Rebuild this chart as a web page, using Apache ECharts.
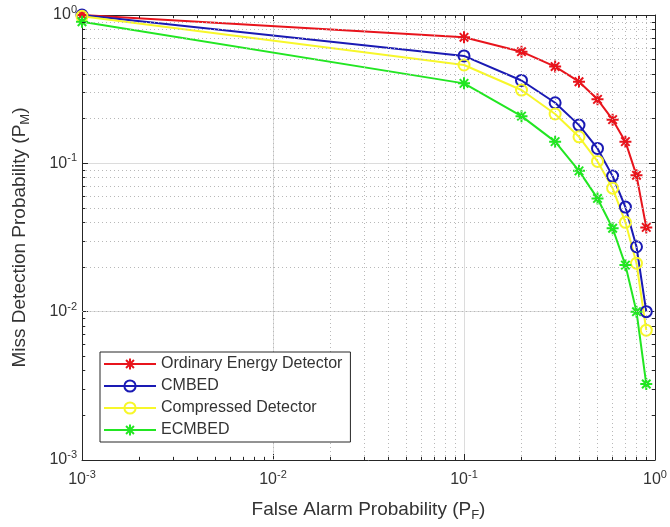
<!DOCTYPE html>
<html>
<head>
<meta charset="utf-8">
<script src="https://cdn.jsdelivr.net/npm/echarts@6/dist/echarts.min.js"></script>
<style>
html,body{margin:0;padding:0;background:#fff;}
#chart{width:670px;height:527px;}
</style>
</head>
<body>
<div id="chart"></div>
<script>
// ---- data ----
const pf = [0.001, 0.1, 0.2, 0.3, 0.4, 0.5, 0.6, 0.7, 0.8, 0.9];
const pmOrdinary = [1.0, 0.707, 0.566, 0.449, 0.355, 0.27, 0.197, 0.14, 0.083, 0.037];
const pmCMBED = [1.0, 0.53, 0.362, 0.256, 0.181, 0.126, 0.082, 0.0507, 0.0274, 0.0100];
const pmCompressed = [0.98, 0.46, 0.312, 0.215, 0.151, 0.103, 0.068, 0.040, 0.0212, 0.0075];
const pmECMBED = [0.90, 0.346, 0.208, 0.14, 0.089, 0.058, 0.0365, 0.0206, 0.0100, 0.00325];
const seriesNames = ['Ordinary Energy Detector', 'CMBED', 'Compressed Detector', 'ECMBED'];
const minorMultipliers = [2, 3, 4, 5, 6, 7, 8, 9];

const FONT = 'Liberation Sans, Arial, Helvetica, sans-serif';
const AXIS_COLOR = '#333333';

const minorVals = [];
[0.001, 0.01, 0.1].forEach(d => minorMultipliers.forEach(m => minorVals.push(+(d * m).toPrecision(3))));

const pts = (ys) => pf.map((x, i) => [x, ys[i]]);
const asterisk = 'path://M10,0L10,20M0,10L20,10M2.93,2.93L17.07,17.07M2.93,17.07L17.07,2.93';

// minor grid (dotted) and minor ticks
const gridLines = [];
minorVals.forEach(v => { gridLines.push({ xAxis: v }); gridLines.push({ yAxis: v }); });
const tickSegs = [];
minorVals.forEach(v => {
  tickSegs.push([{ coord: [v, 0.001] }, { coord: [v, 0.001 * 1.05] }]);
  tickSegs.push([{ coord: [v, 1] }, { coord: [v, 1 / 1.05] }]);
  tickSegs.push([{ coord: [0.001, v] }, { coord: [0.001 * 1.04, v] }]);
  tickSegs.push([{ coord: [1, v] }, { coord: [1 / 1.04, v] }]);
});

const supLabel = (v) => {
  const e = Math.round(Math.log10(v));
  return '{b|10}{s|' + e + '}';
};
const labelRich = {
  b: { fontSize: 16, fontFamily: FONT, color: AXIS_COLOR },
  s: { fontSize: 11, fontFamily: FONT, color: AXIS_COLOR, padding: [0, 0, 10, 0] }
};
const nameRich = { sub: { fontSize: 13, color: AXIS_COLOR, fontFamily: FONT, padding: [11, 0, 0, 0] } };

function mkSeries(name, ys, color, symbol, size) {
  return {
    name: name, type: 'line', data: pts(ys),
    symbol: symbol, symbolSize: size,
    showAllSymbol: true,
    lineStyle: { color: color, width: 2 },
    itemStyle: { color: symbol === 'circle' ? 'rgba(255,255,255,0)' : color, borderColor: color, borderWidth: 2 },
    emphasis: { disabled: true },
    animation: false
  };
}

const chart = echarts.init(document.getElementById('chart'), null, { renderer: 'canvas' });
chart.setOption({
  backgroundColor: '#fff',
  animation: false,
  textStyle: { fontFamily: FONT },
  grid: { left: 82, right: 15, top: 15, bottom: 67 },
  legend: {
    left: 100, top: 352,
    orient: 'vertical',
    data: seriesNames,
    backgroundColor: '#fff',
    borderColor: '#262626', borderWidth: 1,
    padding: [4, 8, 4, 3],
    itemWidth: 52, itemHeight: 14, itemGap: 6,
    textStyle: { fontSize: 16, color: AXIS_COLOR, fontFamily: FONT },
    selectedMode: false,
    z: 10
  },
  xAxis: [{
    type: 'log', logBase: 10, min: 0.001, max: 1,
    name: 'False Alarm Probability (P{sub|F})',
    nameLocation: 'middle', nameGap: 38,
    nameTextStyle: { fontSize: 19, color: AXIS_COLOR, fontFamily: FONT, rich: nameRich },
    axisLine: { show: true, onZero: false, lineStyle: { color: '#262626', width: 1 } },
    axisTick: { show: true, inside: true, length: 6, lineStyle: { color: '#262626' } },
    axisLabel: { formatter: supLabel, rich: labelRich, margin: 9, color: AXIS_COLOR },
    splitLine: { show: true, lineStyle: { color: '#dcdcdc', width: 1 } }
  }, {
    type: 'log', logBase: 10, min: 0.001, max: 1, position: 'top',
    axisLine: { show: true, onZero: false, lineStyle: { color: '#262626', width: 1 } },
    axisTick: { show: true, inside: true, length: 6, lineStyle: { color: '#262626' } },
    axisLabel: { show: false }, splitLine: { show: false }
  }],
  yAxis: [{
    type: 'log', logBase: 10, min: 0.001, max: 1,
    name: 'Miss Detection Probability (P{sub|M})',
    nameLocation: 'middle', nameGap: 50,
    nameTextStyle: { fontSize: 19, color: AXIS_COLOR, fontFamily: FONT, rich: nameRich },
    axisLine: { show: true, onZero: false, lineStyle: { color: '#262626', width: 1 } },
    axisTick: { show: true, inside: true, length: 6, lineStyle: { color: '#262626' } },
    axisLabel: { formatter: supLabel, rich: labelRich, margin: 5, color: AXIS_COLOR },
    splitLine: { show: true, lineStyle: { color: '#dcdcdc', width: 1 } }
  }, {
    type: 'log', logBase: 10, min: 0.001, max: 1, position: 'right',
    axisLine: { show: true, onZero: false, lineStyle: { color: '#262626', width: 1 } },
    axisTick: { show: true, inside: true, length: 6, lineStyle: { color: '#262626' } },
    axisLabel: { show: false }, splitLine: { show: false }
  }],
  series: [
    {
      name: '_grid', type: 'line', data: [[0.001, 0.001]], symbol: 'none',
      lineStyle: { opacity: 0 }, silent: true, z: 1, animation: false,
      markLine: {
        silent: true, symbol: 'none', animation: false,
        label: { show: false },
        lineStyle: { type: [1, 3], color: '#b8b8b8', width: 1 },
        emphasis: { disabled: true },
        data: gridLines
      }
    },
    {
      name: '_ticks', type: 'line', data: [[0.001, 0.001]], symbol: 'none',
      lineStyle: { opacity: 0 }, silent: true, z: 1, animation: false,
      markLine: {
        silent: true, symbol: 'none', animation: false,
        label: { show: false },
        lineStyle: { type: 'solid', color: '#262626', width: 1 },
        emphasis: { disabled: true },
        data: tickSegs
      }
    },
    mkSeries(seriesNames[0], pmOrdinary, '#e8141c', asterisk, 12),
    mkSeries(seriesNames[1], pmCMBED, '#1a1ab4', 'circle', 11),
    mkSeries(seriesNames[2], pmCompressed, '#f7f72a', 'circle', 11),
    mkSeries(seriesNames[3], pmECMBED, '#22e622', asterisk, 12)
  ]
});
</script>
</body>
</html>
